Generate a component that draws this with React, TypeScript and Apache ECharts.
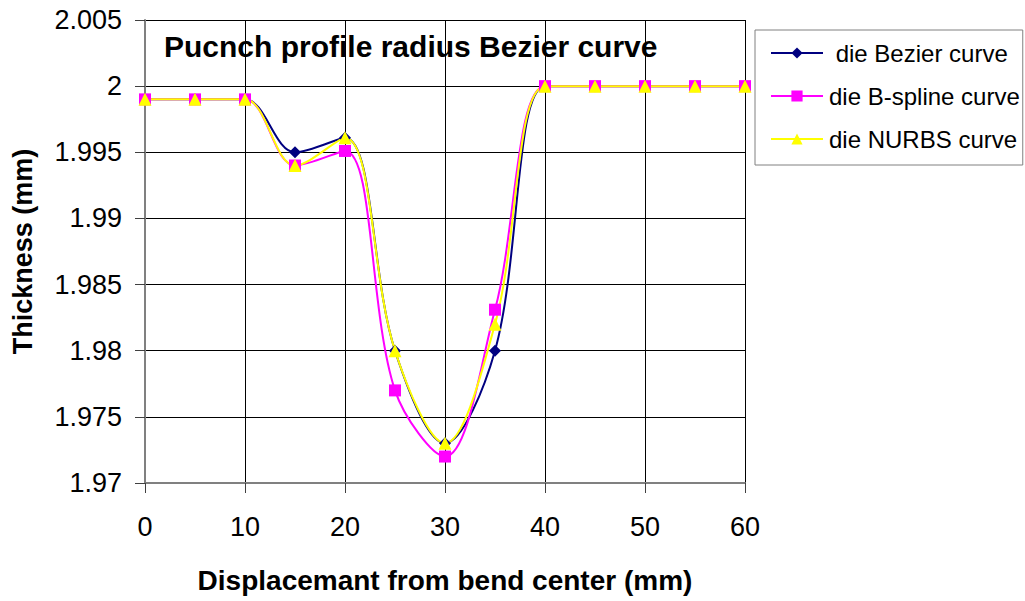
import React, { useEffect, useRef } from "react";
import * as echarts from "echarts";

const xValues = [0, 5, 10, 15, 20, 25, 30, 35, 40, 45, 50, 55, 60];
const bezier = [1.999, 1.999, 1.999, 1.995, 1.9961, 1.98, 1.973, 1.98, 2.0, 2.0, 2.0, 2.0, 2.0];
const bspline = [1.999, 1.999, 1.999, 1.994, 1.9951, 1.977, 1.972, 1.9831, 2.0, 2.0, 2.0, 2.0, 2.0];
const nurbs = [1.999, 1.999, 1.999, 1.994, 1.9961, 1.98, 1.973, 1.982, 2.0, 2.0, 2.0, 2.0, 2.0];
const seriesNames = [" die Bezier curve", "die B-spline curve", "die NURBS curve"];
const titleText = "Pucnch profile radius Bezier curve";
const xName = "Displacemant from bend center (mm)";
const yName = "Thickness (mm)";

const FONT = "'Liberation Sans', Arial, sans-serif";

export default function App() {
  const ref = useRef<HTMLDivElement>(null);
  useEffect(() => {
    document.body.style.margin = "0";
    const chart = echarts.init(ref.current!, null, { renderer: "svg" });
    const mk = (vals: number[]) => xValues.map((x, i) => [x, vals[i]]);
    const common = {
      type: "line",
      smooth: 0.35,
      lineStyle: { width: 2 },
      z: 3,
    };
    chart.setOption({
      animation: false,
      backgroundColor: "#ffffff",
      textStyle: { fontFamily: FONT },
      title: {
        text: titleText,
        left: 164,
        top: 31,
        padding: 0,
        textStyle: { fontFamily: FONT, fontSize: 30, fontWeight: "bold", color: "#000" },
      },
      legend: {
        orient: "vertical",
        left: 755,
        top: 30,
        padding: [11, 3, 14, 15],
        itemGap: 19,
        itemWidth: 52,
        itemHeight: 14,
        borderColor: "#808080",
        borderWidth: 1,
        backgroundColor: "#fff",
        textStyle: { fontFamily: FONT, fontSize: 24, color: "#000", padding: [0, 0, 0, 1] },
        data: seriesNames,
      },
      grid: { left: 145, top: 20, width: 600, height: 463, show: false },
      xAxis: {
        type: "value",
        min: 0,
        max: 60,
        interval: 10,
        name: xName,
        nameLocation: "middle",
        nameGap: 83,
        nameTextStyle: { fontFamily: FONT, fontSize: 28, fontWeight: "bold", color: "#000" },
        axisLine: { lineStyle: { color: "#808080", width: 2 } },
        axisTick: { show: true, length: 10, lineStyle: { color: "#404040" } },
        axisLabel: { fontFamily: FONT, fontSize: 27, color: "#000", margin: 30 },
        splitLine: { show: true, lineStyle: { color: "#000", width: 1 } },
      },
      yAxis: {
        type: "value",
        min: 1.97,
        max: 2.005,
        interval: 0.005,
        name: yName,
        nameLocation: "middle",
        nameGap: 109,
        nameTextStyle: { fontFamily: FONT, fontSize: 27, fontWeight: "bold", color: "#000" },
        axisLine: { show: true, lineStyle: { color: "#808080", width: 2 } },
        axisTick: { show: true, length: 10, lineStyle: { color: "#404040" } },
        axisLabel: {
          fontFamily: FONT,
          fontSize: 27,
          color: "#000",
          margin: 23,
          formatter: (v: number) => String(+v.toFixed(3)),
        },
        splitLine: { show: true, lineStyle: { color: "#000", width: 1 } },
      },
      series: [
        {
          ...common,
          name: seriesNames[0],
          data: mk(bezier),
          color: "#000080",
          symbol: "diamond",
          symbolSize: 12,
        },
        {
          ...common,
          name: seriesNames[1],
          data: mk(bspline),
          color: "#ff00ff",
          symbol: "rect",
          symbolSize: 12,
        },
        {
          ...common,
          name: seriesNames[2],
          data: mk(nurbs),
          color: "#ffff00",
          symbol: "triangle",
          symbolSize: 13,
        },
      ],
    });
    return () => chart.dispose();
  }, []);
  return <div ref={ref} style={{ width: 1025, height: 601 }} />;
}
